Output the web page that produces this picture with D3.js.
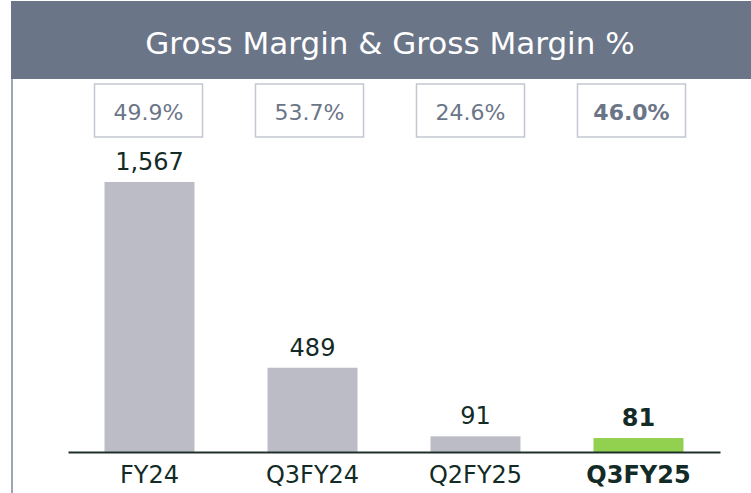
<!DOCTYPE html>
<html lang="en">
<head>
<meta charset="utf-8">
<title>Gross Margin</title>
<script src="https://d3js.org/d3.v7.min.js"></script>
<style>
  body { margin: 0; background: #fff; }
  svg text { font-family: "DejaVu Sans", sans-serif; }
</style>
</head>
<body>
<script>
// data
var categories = ["FY24", "Q3FY24", "Q2FY25", "Q3FY25"];
var grossMargin = [1567, 489, 91, 81];
var marginPct = [49.9, 53.7, 24.6, 46.0];
var current = "Q3FY25";
var title = "Gross Margin & Gross Margin %";

var w = 751, h = 493;
var svg = d3.select("body").append("svg").attr("width", w).attr("height", h);

// header band + left rule
svg.append("rect").attr("x", 11).attr("y", 1).attr("width", w - 11).attr("height", 78).attr("fill", "#6b7588");
svg.append("line").attr("x1", 12).attr("x2", 12).attr("y1", 79).attr("y2", h)
  .attr("stroke", "#7e8699").attr("stroke-width", 1.5);
svg.append("text").attr("x", 390).attr("y", 54).attr("text-anchor", "middle")
  .attr("fill", "#fff").attr("font-size", 31).text(title);

// scales
var x = d3.scaleBand().domain(categories).range([68, 720]).paddingInner(0.448).paddingOuter(0.224);
var xBox = d3.scaleBand().domain(categories).range([68, 712]).paddingInner(0.329).paddingOuter(0.1645);
var y = d3.scaleLinear().domain([0, d3.max(grossMargin)]).range([452, 182]);

var rows = categories.map(function(c, i) {
  return { cat: c, v: grossMargin[i], p: marginPct[i], hi: c === current };
});

// percentage boxes
var boxes = svg.append("g").selectAll("g").data(rows).join("g");
boxes.append("rect")
  .attr("x", d => xBox(d.cat)).attr("y", 84)
  .attr("width", xBox.bandwidth()).attr("height", 53)
  .attr("fill", "#fff").attr("stroke", "#c3c7d1").attr("stroke-width", 1.5);
boxes.append("text")
  .attr("x", d => xBox(d.cat) + xBox.bandwidth() / 2).attr("y", 120)
  .attr("text-anchor", "middle").attr("font-size", 22)
  .attr("font-weight", d => d.hi ? "bold" : "normal")
  .attr("fill", "#6b7588")
  .text(d => d3.format(".1f")(d.p) + "%");

// bars
svg.append("g").selectAll("rect").data(rows).join("rect")
  .attr("x", d => x(d.cat)).attr("y", d => y(d.v))
  .attr("width", x.bandwidth()).attr("height", d => y(0) - y(d.v))
  .attr("fill", d => d.hi ? "#92d050" : "#bcbcc6");

// value labels
svg.append("g").selectAll("text").data(rows).join("text")
  .attr("x", d => x(d.cat) + x.bandwidth() / 2).attr("y", d => y(d.v) - 12)
  .attr("text-anchor", "middle").attr("font-size", 24)
  .attr("font-weight", d => d.hi ? "bold" : "normal")
  .attr("fill", "#132b26")
  .text(d => d3.format(",")(d.v));

// x axis
var xAxis = d3.axisBottom(x).tickSize(0).tickPadding(0);
var gx = svg.append("g").attr("transform", "translate(0," + y(0) + ")").call(xAxis);
gx.select(".domain").attr("stroke", "#1f302b").attr("stroke-width", 2);
gx.selectAll(".tick text")
  .attr("y", 31).attr("dy", 0)
  .attr("font-size", 24)
  .attr("font-family", "DejaVu Sans, sans-serif")
  .attr("font-weight", d => d === current ? "bold" : "normal")
  .attr("fill", "#132b26");
</script>
</body>
</html>
